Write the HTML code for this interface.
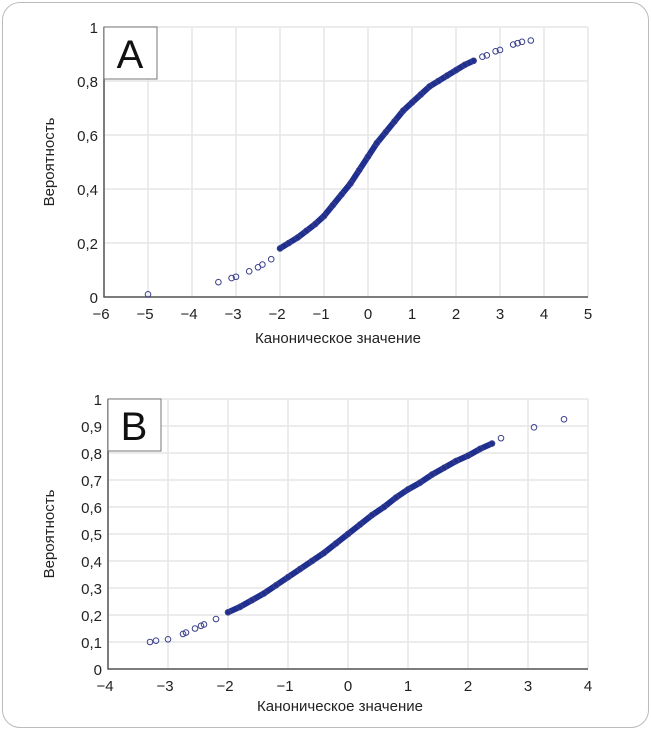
<!DOCTYPE html>
<html><head><meta charset="utf-8">
<style>
body{margin:0;background:#fff;font-family:"Liberation Sans",sans-serif}
#frame{position:absolute;left:2px;top:2px;width:645px;height:724px;border:1.5px solid #bbb;border-radius:18px}
svg{position:absolute;left:0;top:0}
</style></head>
<body>
<div id="frame"></div>
<svg id="s" width="651" height="730"></svg>
<script>
const aDenseX=[-2.0,-1.8,-1.6,-1.4,-1.2,-1.0,-0.8,-0.6,-0.4,-0.2,0,0.2,0.4,0.6,0.8,1.0,1.2,1.4,1.6,1.8,2.0,2.2,2.4];
const aDenseY=[.18,.20,.22,.245,.27,.30,.34,.38,.42,.47,.52,.57,.61,.65,.69,.72,.75,.78,.80,.82,.84,.86,.875];
const aSparseX=[-5,-3.4,-3.1,-3.0,-2.7,-2.5,-2.4,-2.2,2.6,2.7,2.9,3.0,3.3,3.4,3.5,3.7];
const aSparseY=[.01,.055,.07,.075,.095,.11,.12,.14,.89,.895,.91,.915,.935,.94,.945,.95];
const aXTicks=[-6,-5,-4,-3,-2,-1,0,1,2,3,4,5];
const aYTicks=[0,0.2,0.4,0.6,0.8,1];
const aYLabels=["0","0,2","0,4","0,6","0,8","1"];
const bDenseX=[-2.0,-1.8,-1.6,-1.4,-1.2,-1.0,-0.8,-0.6,-0.4,-0.2,0,0.2,0.4,0.6,0.8,1.0,1.2,1.4,1.6,1.8,2.0,2.2,2.4];
const bDenseY=[.21,.23,.255,.28,.31,.34,.37,.40,.43,.465,.50,.535,.57,.60,.635,.665,.69,.72,.745,.77,.79,.815,.835];
const bSparseX=[-3.3,-3.2,-3.0,-2.75,-2.7,-2.55,-2.45,-2.4,-2.2,2.55,3.1,3.6];
const bSparseY=[.10,.105,.11,.13,.135,.15,.16,.165,.185,.855,.895,.925];
const bXTicks=[-4,-3,-2,-1,0,1,2,3,4];
const bYTicks=[0,.1,.2,.3,.4,.5,.6,.7,.8,.9,1];
const bYLabels=["0","0,1","0,2","0,3","0,4","0,5","0,6","0,7","0,8","0,9","1"];

const NS="http://www.w3.org/2000/svg",S=document.getElementById('s');
function mk(t,a,p){const e=document.createElementNS(NS,t);for(const k in a)e.setAttribute(k,a[k]);(p||S).appendChild(e);return e;}
function fmt(v){return v<0?"\u2212"+(-v):""+v;}
function chart(o){
  const g=mk('g',{});
  
  
  const sx=v=>o.x0+(v-o.xmin)/(o.xmax-o.xmin)*(o.x1-o.x0);
  const sy=v=>o.y1-(v-o.ymin)/(o.ymax-o.ymin)*(o.y1-o.y0);
  o.xt.forEach(v=>{const l=mk('line',{x1:sx(v),x2:sx(v),y1:o.y0,y2:o.y1,stroke:'#e6e6e6','stroke-width':1.5},g);
    
    const t=mk('text',{x:sx(v)-(v<0?3:0),y:o.y1+22,'text-anchor':'middle','font-size':15,fill:'#222'},g);t.textContent=fmt(v);
    });
  o.yt.forEach((v,i)=>{const l=mk('line',{x1:o.x0,x2:o.x1,y1:sy(v),y2:sy(v),stroke:'#e6e6e6','stroke-width':1.5},g);
    
    const t=mk('text',{x:o.x0-6,y:sy(v)+6,'text-anchor':'end','font-size':15,fill:'#222'},g);t.textContent=o.yl[i];
    });
  const ax=mk('path',{d:`M${o.x0},${o.y0}V${o.y1}H${o.x1}`,fill:'none',stroke:'#555','stroke-width':1.5},g);
  
  const pts=o.dx.map((v,i)=>sx(v)+','+sy(o.dy[i])).join(' ');
  const pl=mk('polyline',{points:pts,fill:'none',stroke:'#1f2f8f','stroke-width':6,'stroke-linejoin':'round','stroke-linecap':'round'},g);
  
  o.dx.concat(o.sx).forEach((v,i)=>{const y=i<o.dx.length?o.dy[i]:o.sy[i-o.dx.length];
    const c=mk('circle',{cx:sx(v),cy:sy(y),r:2.8,fill:'none',stroke:'#3a3f8a','stroke-width':1},g);
    });
  const b=mk('rect',{x:o.x0,y:o.y0,width:53,height:52,fill:'#fff',stroke:'#777','stroke-width':1},g);
  
  const bt=mk('text',{x:o.x0+26,y:o.y0+41,'text-anchor':'middle','font-size':40,fill:'#111'},g);bt.textContent=o.label;
  
  const xt=mk('text',{x:(o.x0+o.x1)/2-8,y:o.y1+o.xty,'text-anchor':'middle','font-size':15,fill:'#222'},g);xt.textContent='Каноническое значение';
  
  const yt=mk('text',{x:0,y:0,'text-anchor':'middle','font-size':15,fill:'#222',transform:`translate(${o.ytx},${(o.y0+o.y1)/2}) rotate(-90)`},g);yt.textContent='Вероятность';
  
}
chart({name:'chart-a',label:'A',x0:104,x1:588,y0:27,y1:297,xmin:-6,xmax:5,ymin:0,ymax:1,xt:aXTicks,yt:aYTicks,yl:aYLabels,dx:aDenseX,dy:aDenseY,sx:aSparseX,sy:aSparseY,xty:46,ytx:54});
chart({name:'chart-b',label:'B',x0:108,x1:588,y0:399,y1:669,xmin:-4,xmax:4,ymin:0,ymax:1,xt:bXTicks,yt:bYTicks,yl:bYLabels,dx:bDenseX,dy:bDenseY,sx:bSparseX,sy:bSparseY,xty:42,ytx:54});
</script>
</body></html>
